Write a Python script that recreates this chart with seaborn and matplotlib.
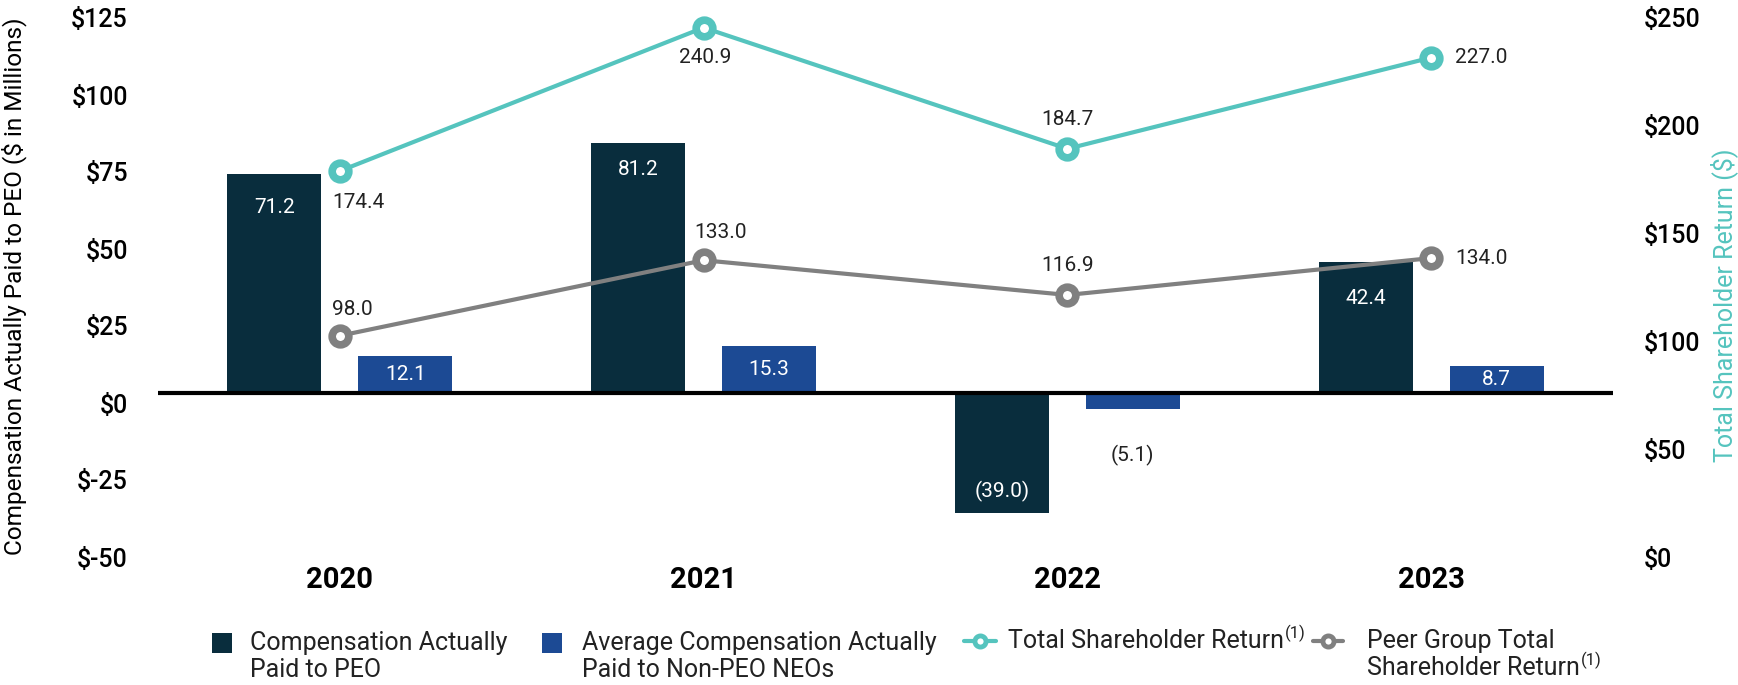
import numpy as np
import pandas as pd
import matplotlib
matplotlib.use("Agg")
import matplotlib.pyplot as plt
import seaborn as sns
from matplotlib.transforms import ScaledTranslation
from matplotlib.lines import Line2D
from matplotlib.patches import Rectangle

# ---------------- data ----------------
years = ["2020", "2021", "2022", "2023"]
peo_cap = [71.2, 81.2, -39.0, 42.4]
neo_cap = [12.1, 15.3, -5.1, 8.7]
tsr = [174.4, 240.9, 184.7, 227.0]
peer_tsr = [98.0, 133.0, 116.9, 134.0]
left_ticks = [-50, -25, 0, 25, 50, 75, 100, 125]
right_ticks = [0, 50, 100, 150, 200, 250]
series_names = ["Compensation Actually Paid to PEO",
                "Average Compensation Actually Paid to Non-PEO NEOs"]

# ---------------- style ----------------
NAVY = "#092d3d"
BLUE = "#1c4a94"
TEAL = "#55c4be"
GRAY = "#808080"
TXT = "#222222"

sns.set_theme(style="white")
plt.rcParams['font.family'] = ['Roboto', 'DejaVu Sans']

W, H = 1738, 685
fig = plt.figure(figsize=(W / 100, H / 100), dpi=100)
ax = fig.add_axes([158 / W, 1 - 547 / H, (1613 - 158) / W, (547 - 8) / H])

df = pd.DataFrame({
    "Year": years * 2,
    "Series": [series_names[0]] * len(years) + [series_names[1]] * len(years),
    "Value": peo_cap + neo_cap,
})
sns.barplot(data=df, x="Year", y="Value", hue="Series", hue_order=series_names,
            palette=[NAVY, BLUE], saturation=1, width=0.72, gap=0.283,
            linewidth=0, errorbar=None, legend=False, ax=ax)
ax.set_xlim(-0.5, 3.5)
ax.set_ylim(-50, 125)
ax.set_xlabel("")
ax.set_ylabel("")
ax.axhline(0, color="black", lw=3, zorder=5)

ax2 = ax.twinx()
ax2.set_ylim(0, 250)
xpos = np.arange(len(years))
sns.lineplot(x=xpos, y=tsr, ax=ax2, color=TEAL, lw=3, marker='o',
             markersize=12, markerfacecolor='white', markeredgecolor=TEAL,
             markeredgewidth=5.5, zorder=6)
sns.lineplot(x=xpos, y=peer_tsr, ax=ax2, color=GRAY, lw=3, marker='o',
             markersize=12, markerfacecolor='white', markeredgecolor=GRAY,
             markeredgewidth=5.5, zorder=6)
ax2.set_xlim(-0.5, 3.5)
ax2.set_ylim(0, 250)
ax2.set_ylabel("")

for a in (ax, ax2):
    for s in a.spines.values():
        s.set_visible(False)

def fmt(v):
    return f"({abs(v):.1f})" if v < 0 else f"{v:.1f}"

DL = 15
# bar labels (pixel offsets are layout only)
peo_dy = [-34, -27, 22, -36]
for i, v in enumerate(peo_cap):
    ax.annotate(fmt(v), xy=(i - 0.18, v), xytext=(0, peo_dy[i] * 0.72),
                textcoords='offset points', ha='center', va='center',
                color='white', fontsize=DL, zorder=7)
for i, v in enumerate(neo_cap):
    if v >= 0:
        ax.annotate(fmt(v), xy=(i + 0.18, v / 2), xytext=(0, 0),
                    textcoords='offset points', ha='center', va='center',
                    color='white', fontsize=DL, zorder=7)
    else:
        ax.annotate(fmt(v), xy=(i + 0.18, v), xytext=(0, -47 * 0.72),
                    textcoords='offset points', ha='center', va='center',
                    color=TXT, fontsize=DL, zorder=7)

tsr_off = [(-8, -32, 'left'), (2, -30, 'center'), (0, 29, 'center'), (24, 0, 'left')]
peer_off = [(-8, 26, 'left'), (-9, 28, 'left'), (0, 29, 'center'), (24, 0, 'left')]
for vals, offs in ((tsr, tsr_off), (peer_tsr, peer_off)):
    for i, v in enumerate(vals):
        dx, dy, ha = offs[i]
        ax2.annotate(fmt(v), xy=(i, v), xytext=(dx * 0.72, dy * 0.72),
                     textcoords='offset points', ha=ha, va='center',
                     color=TXT, fontsize=DL, zorder=8)

# ticks
ax.set_yticks(left_ticks)
ax.set_yticklabels([f"${t}" for t in left_ticks])
ax2.set_yticks(right_ticks)
ax2.set_yticklabels([f"${t}" for t in right_ticks])
ax.set_xticks(xpos)
ax.set_xticklabels(years)
ax.tick_params(axis='y', length=0, pad=21.6, labelsize=18, labelcolor='black')
ax2.tick_params(axis='y', length=0, pad=22, labelsize=18, labelcolor='black')
ax.tick_params(axis='x', length=0, pad=14, labelsize=21, labelcolor='black')
for lbl in ax.get_xticklabels():
    lbl.set_fontweight('bold')
for a in (ax, ax2):
    for lbl in a.get_yticklabels():
        lbl.set_fontweight('medium')

# axis titles
fig.text(14 / W, 1 - 286 / H, "Compensation Actually Paid to PEO ($ in Millions)",
         rotation=90, ha='center', va='center', fontsize=17.6, color='black')
fig.text(1724 / W, 1 - 305 / H, "Total Shareholder Return ($)",
         rotation=90, ha='center', va='center', fontsize=18, color=TEAL)

# legend (manual, figure pixels)
def fx(x): return x / W
def fy(y): return 1 - y / H

LF = 18
SUP = 12
renderer = fig.canvas.get_renderer()

def sup_text(x, y, main):
    t = fig.text(fx(x), fy(y), main, va='center', ha='left', fontsize=LF, color=TXT)
    bb = t.get_window_extent(renderer)
    fig.text(bb.x1 / W + 1 / W, fy(y - 8), "(1)", va='center', ha='left',
             fontsize=SUP, color=TXT)

fig.add_artist(Rectangle((fx(212), fy(653)), 20 / W, 20 / H, transform=fig.transFigure,
                         facecolor=NAVY, edgecolor='none'))
fig.text(fx(250), fy(643), "Compensation Actually", va='center', ha='left', fontsize=LF, color=TXT)
fig.text(fx(250), fy(670), "Paid to PEO", va='center', ha='left', fontsize=LF, color=TXT)

fig.add_artist(Rectangle((fx(542), fy(653)), 20 / W, 20 / H, transform=fig.transFigure,
                         facecolor=BLUE, edgecolor='none'))
fig.text(fx(582), fy(643), "Average Compensation Actually", va='center', ha='left', fontsize=LF, color=TXT)
fig.text(fx(582), fy(670), "Paid to Non-PEO NEOs", va='center', ha='left', fontsize=LF, color=TXT)

for (x0, x1, xc, col, tx, lines) in (
        (964, 996, 980, TEAL, 1008, ["Total Shareholder Return"]),
        (1313, 1343, 1328, GRAY, 1367, ["Peer Group Total", "Shareholder Return"])):
    fig.add_artist(Line2D([fx(x0), fx(x1)], [fy(641), fy(641)], transform=fig.transFigure,
                          color=col, lw=3))
    fig.add_artist(Line2D([fx(xc)], [fy(641)], transform=fig.transFigure, marker='o',
                          markersize=8, markerfacecolor='white', markeredgecolor=col,
                          markeredgewidth=3.5, lw=0))
    for k, t in enumerate(lines):
        y = 641 + 27 * k
        if k == len(lines) - 1:
            sup_text(tx, y, t)
        else:
            fig.text(fx(tx), fy(y), t, va='center', ha='left', fontsize=LF, color=TXT)

# shift y tick labels down (label centre sits ~10 px below its tick)
shift = ScaledTranslation(0, -10 / 100, fig.dpi_scale_trans)
for a in (ax, ax2):
    for lbl in a.get_yticklabels():
        lbl.set_transform(lbl.get_transform() + shift)

fig.savefig("out.png", dpi=100)
